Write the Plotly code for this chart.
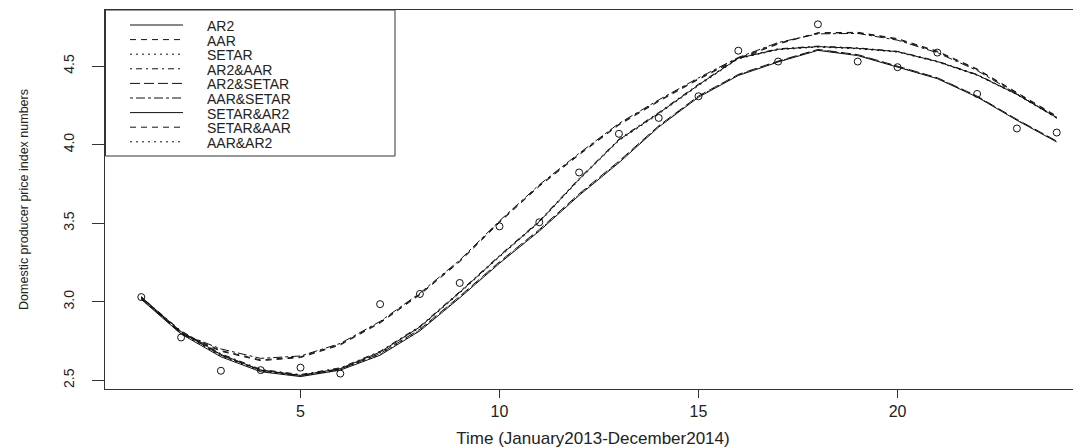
import plotly.graph_objects as go

# ---------------- data ----------------
time_idx = list(range(1, 25))
observed = [3.03, 2.773, 2.561, 2.565, 2.581, 2.543, 2.985, 3.05, 3.12, 3.48, 3.506, 3.823,
            4.069, 4.17, 4.308, 4.598, 4.529, 4.766, 4.529, 4.493, 4.586, 4.323, 4.103, 4.077]

ar2 = [3.03, 2.81, 2.665, 2.565, 2.532, 2.575, 2.68, 2.84, 3.06, 3.29, 3.51, 3.78,
       4.03, 4.20, 4.38, 4.55, 4.607, 4.624, 4.613, 4.592, 4.529, 4.444, 4.32, 4.172]
aar = [3.03, 2.80, 2.69, 2.63, 2.65, 2.73, 2.87, 3.05, 3.26, 3.51, 3.74, 3.94,
       4.13, 4.28, 4.42, 4.55, 4.645, 4.71, 4.712, 4.67, 4.59, 4.478, 4.328, 4.178]
setar = [3.02, 2.80, 2.655, 2.56, 2.527, 2.568, 2.665, 2.82, 3.03, 3.25, 3.455, 3.682,
         3.89, 4.116, 4.306, 4.444, 4.529, 4.603, 4.57, 4.497, 4.423, 4.306, 4.158, 4.02]
ar2_aar = [3.03, 2.815, 2.67, 2.57, 2.537, 2.58, 2.685, 2.845, 3.065, 3.295, 3.515, 3.785,
           4.035, 4.205, 4.385, 4.553, 4.61, 4.627, 4.616, 4.594, 4.532, 4.447, 4.322, 4.175]
ar2_setar = [3.02, 2.805, 2.66, 2.565, 2.53, 2.572, 2.67, 2.825, 3.035, 3.255, 3.46, 3.687,
             3.895, 4.12, 4.31, 4.447, 4.532, 4.606, 4.573, 4.5, 4.426, 4.309, 4.161, 4.023]
aar_setar = [3.03, 2.80, 2.70, 2.64, 2.655, 2.735, 2.875, 3.055, 3.265, 3.515, 3.745, 3.945,
             4.135, 4.285, 4.425, 4.555, 4.65, 4.705, 4.708, 4.665, 4.585, 4.472, 4.322, 4.17]
setar_ar2 = [3.015, 2.795, 2.65, 2.555, 2.524, 2.565, 2.66, 2.815, 3.025, 3.245, 3.45, 3.677,
             3.885, 4.112, 4.302, 4.44, 4.526, 4.6, 4.567, 4.494, 4.42, 4.303, 4.155, 4.017]
setar_aar = [3.025, 2.795, 2.685, 2.625, 2.645, 2.725, 2.865, 3.045, 3.255, 3.505, 3.735, 3.935,
             4.125, 4.275, 4.415, 4.545, 4.64, 4.712, 4.715, 4.675, 4.595, 4.482, 4.332, 4.182]
aar_ar2 = [3.025, 2.805, 2.66, 2.56, 2.528, 2.57, 2.675, 2.835, 3.055, 3.285, 3.505, 3.775,
           4.025, 4.195, 4.375, 4.547, 4.604, 4.621, 4.61, 4.589, 4.526, 4.441, 4.318, 4.168]

series_names = ["AR2", "AAR", "SETAR", "AR2&AAR", "AR2&SETAR", "AAR&SETAR",
                "SETAR&AR2", "SETAR&AAR", "AAR&AR2"]
series_values = [ar2, aar, setar, ar2_aar, ar2_setar, aar_setar, setar_ar2, setar_aar, aar_ar2]

x_tick_vals = [5, 10, 15, 20]
y_tick_vals = [2.5, 3.0, 3.5, 4.0, 4.5]
y_tick_text = ["2.5", "3.0", "3.5", "4.0", "4.5"]

# R line types 1..6, then 1..3 again
dash_styles = ["solid", "6px,5px", "2px,4px", "2px,4px,6px,4px", "10px,4px",
               "3px,3px,9px,3px", "solid", "6px,5px", "2px,4px"]

FONT = "Liberation Sans, Arial, sans-serif"
INK = "#222222"

fig = go.Figure()
for name, vals, dash in zip(series_names, series_values, dash_styles):
    fig.add_trace(go.Scatter(x=time_idx, y=vals, mode="lines", name=name,
                             line=dict(color="#111111", width=1, dash=dash),
                             showlegend=False))

fig.add_trace(go.Scatter(x=time_idx, y=observed, mode="markers", name="Observed",
                         marker=dict(symbol="circle-open", size=7, color="#111111",
                                     line=dict(width=1, color="#111111")),
                         showlegend=False))

# the page body has an 8px margin, so the figure is sized/offset to compensate
OFF = 8
W, H = 1081 - OFF, 448 - OFF
ML, MR, MT, MB = 105 - OFF, 0, 10 - OFF, 59
PW, PH = W - ML - MR, H - MT - MB

def px_x(sx):
    return (sx - OFF - ML) / PW

def px_y(sy):
    return (H - MB - (sy - OFF)) / PH

# legend box (R-style legend)
shapes = [dict(type="rect", xref="paper", yref="paper",
               x0=px_x(105.5), x1=px_x(395), y0=px_y(156), y1=px_y(10),
               line=dict(color="#333333", width=1), fillcolor="white", layer="above")]
annotations = []
for i, (name, dash) in enumerate(zip(series_names, dash_styles)):
    sy = 25 + 14.6 * i
    shapes.append(dict(type="line", xref="paper", yref="paper",
                       x0=px_x(130), x1=px_x(183), y0=px_y(sy), y1=px_y(sy),
                       line=dict(color="#111111", width=1, dash=dash), layer="above"))
    annotations.append(dict(text=name, xref="paper", yref="paper",
                            x=px_x(206), y=px_y(sy + 1), xanchor="left", yanchor="middle",
                            showarrow=False, borderpad=0,
                            font=dict(family=FONT, size=14, color=INK)))

fig.update_layout(
    width=W, height=H,
    margin=dict(l=ML, r=MR, t=MT, b=MB),
    paper_bgcolor="white", plot_bgcolor="white",
    shapes=shapes, annotations=annotations,
    font=dict(family=FONT, color=INK),
    xaxis=dict(range=[0.088, 24.61], tickvals=x_tick_vals, ticks="outside", ticklen=8,
               tickcolor="#333333", showline=True, linecolor="#333333", linewidth=1,
               mirror=True, showgrid=False, zeroline=False,
               tickfont=dict(family=FONT, size=16, color=INK),
               title=dict(text="Time (January2013-December2014)",
                          font=dict(family=FONT, size=17, color=INK), standoff=13),
               automargin=False),
    yaxis=dict(range=[2.445, 4.857], tickvals=y_tick_vals, ticktext=y_tick_text,
               tickangle=-90, ticks="outside", ticklen=12, tickcolor="#333333",
               showline=True, linecolor="#333333", linewidth=1, showgrid=False,
               zeroline=False, ticklabelstandoff=12,
               tickfont=dict(family=FONT, size=14, color=INK),
               title=dict(text="Domestic producer price index numbers",
                          font=dict(family=FONT, size=12.5, color=INK), standoff=30),
               automargin=False),
)

fig.write_html("out.html")
